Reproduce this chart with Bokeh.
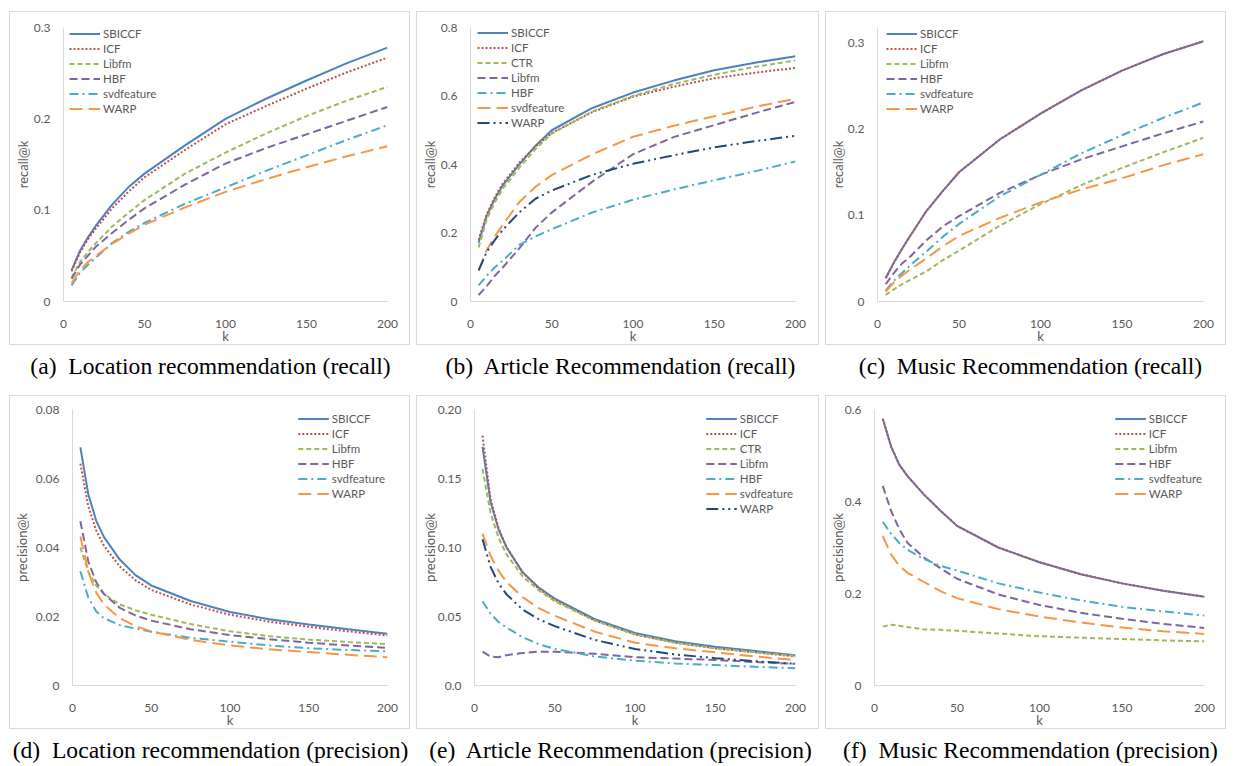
from bokeh.plotting import figure
from bokeh.models import Legend, LegendItem, Div, Spacer, FixedTicker, Range1d
from bokeh.layouts import row, column
from bokeh.embed import file_html
from bokeh.resources import INLINE

# ---------------- data ----------------
k = [5, 10, 15, 20, 30, 40, 50, 75, 100, 125, 150, 175, 200]
x_ticks = [0, 50, 100, 150, 200]

# (a) Location recommendation (recall)
loc_rec_names = ["SBICCF", "ICF", "Libfm", "HBF", "svdfeature", "WARP"]
loc_rec_sbiccf = [0.034, 0.055, 0.070, 0.083, 0.106, 0.125, 0.140, 0.171, 0.200, 0.222, 0.242, 0.261, 0.278]
loc_rec_icf = [0.033, 0.053, 0.068, 0.080, 0.102, 0.120, 0.136, 0.166, 0.194, 0.214, 0.233, 0.251, 0.267]
loc_rec_libfm = [0.026, 0.043, 0.054, 0.064, 0.082, 0.097, 0.111, 0.140, 0.163, 0.184, 0.203, 0.220, 0.235]
loc_rec_hbf = [0.025, 0.040, 0.050, 0.060, 0.075, 0.089, 0.102, 0.128, 0.151, 0.168, 0.183, 0.198, 0.213]
loc_rec_svd = [0.0175, 0.031, 0.040, 0.048, 0.064, 0.076, 0.086, 0.107, 0.125, 0.143, 0.160, 0.177, 0.193]
loc_rec_warp = [0.020, 0.034, 0.043, 0.050, 0.063, 0.074, 0.084, 0.103, 0.120, 0.134, 0.147, 0.159, 0.170]
loc_rec_yticks = [0, 0.1, 0.2, 0.3]
loc_rec_ylabels = ["0", "0.1", "0.2", "0.3"]

# (b) Article Recommendation (recall)
art_rec_names = ["SBICCF", "ICF", "CTR", "Libfm", "HBF", "svdfeature", "WARP"]
art_rec_sbiccf = [0.172, 0.250, 0.300, 0.340, 0.400, 0.455, 0.500, 0.565, 0.610, 0.645, 0.675, 0.697, 0.716]
art_rec_icf = [0.180, 0.255, 0.305, 0.345, 0.405, 0.452, 0.492, 0.553, 0.598, 0.627, 0.652, 0.668, 0.682]
art_rec_ctr = [0.158, 0.240, 0.290, 0.330, 0.390, 0.445, 0.490, 0.555, 0.600, 0.635, 0.662, 0.685, 0.704]
art_rec_libfm = [0.019, 0.045, 0.075, 0.100, 0.155, 0.215, 0.260, 0.350, 0.430, 0.480, 0.515, 0.550, 0.583]
art_rec_hbf = [0.047, 0.075, 0.100, 0.120, 0.165, 0.190, 0.211, 0.260, 0.297, 0.327, 0.354, 0.380, 0.409]
art_rec_svd = [0.091, 0.150, 0.190, 0.225, 0.290, 0.335, 0.369, 0.430, 0.481, 0.513, 0.541, 0.568, 0.592]
art_rec_warp = [0.091, 0.145, 0.180, 0.210, 0.260, 0.300, 0.324, 0.370, 0.402, 0.427, 0.450, 0.468, 0.484]
art_rec_yticks = [0, 0.2, 0.4, 0.6, 0.8]
art_rec_ylabels = ["0", "0.2", "0.4", "0.6", "0.8"]

# (c) Music Recommendation (recall)
mus_rec_names = ["SBICCF", "ICF", "Libfm", "HBF", "svdfeature", "WARP"]
mus_rec_sbiccf = [0.027, 0.045, 0.061, 0.076, 0.105, 0.128, 0.150, 0.188, 0.218, 0.245, 0.268, 0.287, 0.302]
mus_rec_icf = [0.027, 0.045, 0.061, 0.076, 0.105, 0.128, 0.150, 0.188, 0.218, 0.245, 0.268, 0.287, 0.302]
mus_rec_libfm = [0.0077, 0.014, 0.020, 0.025, 0.035, 0.048, 0.059, 0.088, 0.113, 0.135, 0.155, 0.173, 0.190]
mus_rec_hbf = [0.020, 0.033, 0.044, 0.052, 0.071, 0.087, 0.099, 0.126, 0.147, 0.165, 0.180, 0.195, 0.209]
mus_rec_svd = [0.0127, 0.024, 0.033, 0.042, 0.058, 0.075, 0.090, 0.122, 0.147, 0.172, 0.193, 0.213, 0.231]
mus_rec_warp = [0.0115, 0.022, 0.030, 0.037, 0.050, 0.064, 0.076, 0.097, 0.115, 0.130, 0.143, 0.158, 0.171]
mus_rec_yticks = [0, 0.1, 0.2, 0.3]
mus_rec_ylabels = ["0", "0.1", "0.2", "0.3"]

# (d) Location recommendation (precision)
loc_pre_names = ["SBICCF", "ICF", "Libfm", "HBF", "svdfeature", "WARP"]
loc_pre_sbiccf = [0.069, 0.0555, 0.0478, 0.043, 0.0365, 0.032, 0.029, 0.0245, 0.0213, 0.0192, 0.0177, 0.0163, 0.015]
loc_pre_icf = [0.0643, 0.052, 0.045, 0.0405, 0.0345, 0.0305, 0.0277, 0.0235, 0.0205, 0.0185, 0.017, 0.0157, 0.0145]
loc_pre_libfm = [0.040, 0.033, 0.029, 0.0265, 0.0235, 0.0218, 0.0205, 0.0178, 0.0157, 0.0143, 0.0133, 0.0126, 0.012]
loc_pre_hbf = [0.0476, 0.036, 0.030, 0.0265, 0.0225, 0.0203, 0.0188, 0.0163, 0.0146, 0.0134, 0.0124, 0.0116, 0.0109]
loc_pre_svd = [0.0331, 0.0255, 0.0215, 0.0195, 0.0175, 0.0165, 0.0156, 0.0138, 0.0127, 0.0116, 0.0108, 0.0103, 0.0099]
loc_pre_warp = [0.0432, 0.033, 0.027, 0.0235, 0.0195, 0.0172, 0.0157, 0.0132, 0.0116, 0.0105, 0.0097, 0.0089, 0.0082]
loc_pre_yticks = [0, 0.02, 0.04, 0.06, 0.08]
loc_pre_ylabels = ["0", "0.02", "0.04", "0.06", "0.08"]

# (e) Article Recommendation (precision)
art_pre_names = ["SBICCF", "ICF", "CTR", "Libfm", "HBF", "svdfeature", "WARP"]
art_pre_sbiccf = [0.173, 0.133, 0.113, 0.100, 0.082, 0.071, 0.063, 0.048, 0.038, 0.032, 0.028, 0.025, 0.022]
art_pre_icf = [0.181, 0.135, 0.114, 0.100, 0.082, 0.070, 0.062, 0.047, 0.037, 0.031, 0.027, 0.024, 0.021]
art_pre_ctr = [0.157, 0.125, 0.107, 0.095, 0.079, 0.069, 0.061, 0.047, 0.037, 0.031, 0.027, 0.024, 0.0215]
art_pre_libfm = [0.0245, 0.021, 0.0205, 0.022, 0.0235, 0.0245, 0.0245, 0.023, 0.0205, 0.0195, 0.0185, 0.017, 0.0157]
art_pre_hbf = [0.061, 0.052, 0.046, 0.042, 0.035, 0.030, 0.0265, 0.021, 0.018, 0.016, 0.0148, 0.0135, 0.0125]
art_pre_svd = [0.110, 0.094, 0.083, 0.075, 0.064, 0.056, 0.0505, 0.039, 0.031, 0.027, 0.024, 0.021, 0.0185]
art_pre_warp = [0.106, 0.086, 0.074, 0.066, 0.055, 0.048, 0.043, 0.033, 0.0265, 0.0225, 0.0198, 0.0176, 0.0157]
art_pre_yticks = [0, 0.05, 0.10, 0.15, 0.20]
art_pre_ylabels = ["0.0", "0.05", "0.10", "0.15", "0.20"]

# (f) Music Recommendation (precision)
mus_pre_names = ["SBICCF", "ICF", "Libfm", "HBF", "svdfeature", "WARP"]
mus_pre_sbiccf = [0.580, 0.520, 0.480, 0.455, 0.415, 0.380, 0.347, 0.300, 0.268, 0.242, 0.222, 0.206, 0.193]
mus_pre_icf = [0.580, 0.520, 0.480, 0.455, 0.415, 0.380, 0.347, 0.300, 0.268, 0.242, 0.222, 0.206, 0.193]
mus_pre_libfm = [0.128, 0.132, 0.130, 0.127, 0.122, 0.121, 0.119, 0.113, 0.107, 0.104, 0.101, 0.098, 0.096]
mus_pre_hbf = [0.434, 0.380, 0.340, 0.310, 0.278, 0.255, 0.232, 0.198, 0.175, 0.158, 0.145, 0.134, 0.125]
mus_pre_svd = [0.356, 0.330, 0.310, 0.295, 0.275, 0.260, 0.250, 0.222, 0.202, 0.185, 0.171, 0.161, 0.152]
mus_pre_warp = [0.325, 0.285, 0.260, 0.245, 0.225, 0.205, 0.190, 0.166, 0.150, 0.137, 0.126, 0.118, 0.112]
mus_pre_yticks = [0, 0.2, 0.4, 0.6]
mus_pre_ylabels = ["0", "0.2", "0.4", "0.6"]

captions = [
    "(a)&nbsp; Location recommendation (recall)",
    "(b)&nbsp; Article Recommendation (recall)",
    "(c)&nbsp; Music Recommendation (recall)",
    "(d)&nbsp; Location recommendation (precision)",
    "(e)&nbsp; Article Recommendation (precision)",
    "(f)&nbsp; Music Recommendation (precision)",
]

# ---------------- styles ----------------
COLORS = ["#4F81BD", "#C0504D", "#9BBB59", "#8064A2", "#4BACC6", "#F79646", "#1F497D"]
DASHES = ["solid", "2 2", "5 3", "8 4", "9 4 2 4", "13 6", "12 4 2 4 2 4"]
GREY_TXT = "#595959"
GREY_LINE = "#D9D9D9"
FONT = "Lato"
ROW_H = 15


def make_panel(w, h, ymax, yticks, ylabels, ylabel, names, series,
               bl, br, bt, bb, leg_loc, leg_margin, ylab_standoff):
    p = figure(width=w, height=h, x_range=Range1d(0, 200), y_range=Range1d(0, ymax),
               output_backend="svg", toolbar_location=None, title=None,
               min_border_left=bl, min_border_right=br, min_border_top=bt, min_border_bottom=bb,
               outline_line_color=None, background_fill_color="white", border_fill_color="white")
    p.styles = {"border": "1px solid " + GREY_LINE}
    p.xgrid.grid_line_color = None
    p.ygrid.grid_line_color = None
    p.xaxis.ticker = FixedTicker(ticks=x_ticks)
    p.yaxis.ticker = FixedTicker(ticks=yticks)
    p.yaxis.major_label_overrides = {t: s for t, s in zip(yticks, ylabels)}
    p.xaxis.axis_label = "k"
    p.yaxis.axis_label = ylabel
    for ax in (p.xaxis[0], p.yaxis[0]):
        ax.axis_line_color = GREY_LINE
        ax.axis_line_width = 1
        ax.major_tick_line_color = None
        ax.minor_tick_line_color = None
        ax.major_tick_out = 0
        ax.major_tick_in = 0
        ax.minor_tick_out = 0
        ax.minor_tick_in = 0
        ax.major_label_text_color = GREY_TXT
        ax.major_label_text_font = FONT
        ax.major_label_text_font_size = "12px"
        ax.axis_label_text_color = GREY_TXT
        ax.axis_label_text_font = FONT
        ax.axis_label_text_font_size = "13px"
        ax.axis_label_text_font_style = "normal"
    p.xaxis.major_label_standoff = 18
    p.xaxis.axis_label_standoff = -3
    p.yaxis.major_label_standoff = 13
    p.yaxis.axis_label_standoff = ylab_standoff

    items = []
    for i, (name, ys) in enumerate(zip(names, series)):
        r = p.line(k, ys, line_color=COLORS[i], line_dash=DASHES[i], line_width=2)
        items.append(LegendItem(label=name, renderers=[r]))
    leg = Legend(items=items, location=leg_loc, glyph_width=31, glyph_height=ROW_H,
                 label_height=ROW_H, spacing=0, padding=0, margin=leg_margin, label_standoff=3,
                 border_line_color=None, background_fill_alpha=0,
                 label_text_font=FONT, label_text_font_size="11.5px", label_text_color=GREY_TXT)
    p.add_layout(leg)
    return p


# panel canvases: 401/403/401 x 334 (plus 1px border); frames follow the reference
pa = make_panel(401, 334, 0.3, loc_rec_yticks, loc_rec_ylabels, "recall@k", loc_rec_names,
                [loc_rec_sbiccf, loc_rec_icf, loc_rec_libfm, loc_rec_hbf, loc_rec_svd, loc_rec_warp],
                53, 24, 14, 44, (6, 276 - 1 - 6 * ROW_H), 0, 0)
pb = make_panel(403, 334, 0.8, art_rec_yticks, art_rec_ylabels, "recall@k", art_rec_names,
                [art_rec_sbiccf, art_rec_icf, art_rec_ctr, art_rec_libfm, art_rec_hbf, art_rec_svd, art_rec_warp],
                53, 25, 13, 43, (7, 278 - 2 - 7 * ROW_H), 0, 0)
pc = make_panel(401, 334, 0.318, mus_rec_yticks, mus_rec_ylabels, "recall@k", mus_rec_names,
                [mus_rec_sbiccf, mus_rec_icf, mus_rec_libfm, mus_rec_hbf, mus_rec_svd, mus_rec_warp],
                50, 24, 15, 43, (9, 276 - 1 - 6 * ROW_H), 0, -1)
pd_ = make_panel(401, 334, 0.08, loc_pre_yticks, loc_pre_ylabels, "precision@k", loc_pre_names,
                 [loc_pre_sbiccf, loc_pre_icf, loc_pre_libfm, loc_pre_hbf, loc_pre_svd, loc_pre_warp],
                 60, 24, 13, 45, "top_right", 2, 3)
pe = make_panel(403, 334, 0.2, art_pre_yticks, art_pre_ylabels, "precision@k", art_pre_names,
                [art_pre_sbiccf, art_pre_icf, art_pre_ctr, art_pre_libfm, art_pre_hbf, art_pre_svd, art_pre_warp],
                57, 25, 13, 44, "top_right", 2, -3)
pf = make_panel(401, 334, 0.6, mus_pre_yticks, mus_pre_ylabels, "precision@k", mus_pre_names,
                [mus_pre_sbiccf, mus_pre_icf, mus_pre_libfm, mus_pre_hbf, mus_pre_svd, mus_pre_warp],
                48, 23, 13, 42, "top_right", 2, -4)


def caption(text, w, h, pad):
    html = ('<div style="font-family:\'Liberation Serif\',\'Times New Roman\',serif;font-size:23.6px;'
            'line-height:20px;color:#000;text-align:center;white-space:nowrap;margin:0;'
            'width:%dpx;padding-top:%dpx;">%s</div>' % (w, pad, text))
    return Div(text=html, width=w, height=h, margin=0)


widths = [403, 405, 403]


def hrow(items):
    return row([Spacer(width=9, height=1, margin=0), items[0], Spacer(width=6, height=1, margin=0),
                items[1], Spacer(width=6, height=1, margin=0), items[2]], spacing=0)


caps1 = hrow([caption(captions[i], widths[i], 50, 11) for i in range(3)])
caps2 = hrow([caption(captions[3 + i], widths[i], 33, 11) for i in range(3)])
layout = column([Spacer(height=11, width=10, margin=0), hrow([pa, pb, pc]), caps1,
                 hrow([pd_, pe, pf]), caps2], spacing=0)

open("out.html", "w").write(file_html(layout, INLINE))
